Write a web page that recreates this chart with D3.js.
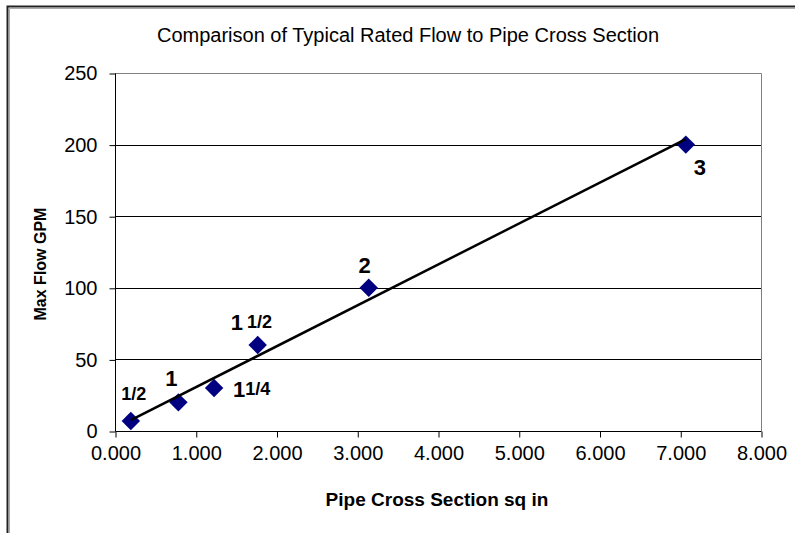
<!DOCTYPE html>
<html><head><meta charset="utf-8">
<script src="https://cdn.jsdelivr.net/npm/d3@7"></script>
<style>
body{margin:0;background:#fff}
svg{display:block}
text{font-family:Arial,"Liberation Sans",sans-serif}
</style>
</head><body>
<svg id="c" width="795" height="533"></svg>
<script>
// ---- data ----
const sizeBig   = ["", "1", "1", "1", "2", "3"];        // whole-inch part of pipe size label
const sizeFrac  = ["1/2", "", "1/4", "1/2", "", ""];    // fractional part of pipe size label
const crossSection = [0.196, 0.785, 1.227, 1.767, 3.142, 7.069]; // sq in
const maxFlow      = [7, 20, 30, 60, 100, 200];                  // GPM
const xTickValues = [0, 1, 2, 3, 4, 5, 6, 7, 8];
const yTickValues = [0, 50, 100, 150, 200, 250];
const titleText = "Comparison of Typical Rated Flow to Pipe Cross Section";
const xTitle = "Pipe Cross Section sq in";
const yTitle = "Max Flow GPM";

// ---- layout ----
const L = 115, R = 761, T = 73, B = 431;
// label placement relative to each point: [dx, dy, anchor, gap between whole and fraction]
const labelLayout = [
  [3, -21, "middle", 0],
  [-7, -16, "middle", 0],
  [19, 9, "start", 0],
  [-27, -15, "start", 4],
  [-4, -15, "middle", 0],
  [14, 30, "middle", 0]
];

const svg = d3.select("#c");
const x = d3.scaleLinear().domain([0, 8]).range([L, R]);
const y = d3.scaleLinear().domain([0, 250]).range([B, T]);

// outer frame
svg.append("path").attr("d", "M7.5,533 V6.5 H795").attr("fill", "none")
  .attr("stroke", "#222").attr("stroke-width", 2);
svg.append("path").attr("d", "M9.5,533 V8.5 H795").attr("fill", "none")
  .attr("stroke", "#aaa").attr("stroke-width", 1);

// title
svg.append("text").attr("x", 408).attr("y", 42).attr("text-anchor", "middle")
  .attr("font-size", 20).attr("fill", "#000").text(titleText);

// gridlines
svg.append("g").selectAll("line").data(yTickValues.filter(v => v > 0 && v < 250)).join("line")
  .attr("x1", L).attr("x2", R).attr("y1", d => Math.round(y(d)) + 0.5).attr("y2", d => Math.round(y(d)) + 0.5)
  .attr("stroke", "#000").attr("stroke-width", 1);

// plot area border (top, right)
svg.append("path").attr("d", `M${L},${T + 0.5} H${R + 0.5} V${B}`).attr("fill", "none")
  .attr("stroke", "#808080").attr("stroke-width", 1);

// axes
const yAxis = d3.axisLeft(y).tickValues(yTickValues).tickSize(6).tickPadding(12).tickFormat(d3.format("d"));
const gy = svg.append("g").attr("transform", `translate(${L + 0.5},0.5)`).call(yAxis);
const xAxis = d3.axisBottom(x).tickValues(xTickValues).tickSize(6).tickPadding(8).tickFormat(d3.format(".3f"));
const gx = svg.append("g").attr("transform", `translate(0.5,${B + 0.5})`).call(xAxis);
[gx, gy].forEach(g => {
  g.select(".domain").attr("stroke", "#000");
  g.selectAll(".tick line").attr("stroke", "#000");
  g.selectAll(".tick text").attr("font-size", 20).attr("fill", "#000")
    .attr("font-family", "Arial, 'Liberation Sans', sans-serif");
});
gy.selectAll(".tick line").attr("x2", 0).attr("x1", -6);
gy.select(".domain").attr("d", `M0,${T} V${B}`);
gx.select(".domain").attr("d", `M${L},0 H${R}`);

// axis titles
svg.append("text").attr("x", 437).attr("y", 506).attr("text-anchor", "middle")
  .attr("font-size", 19).attr("font-weight", "bold").attr("fill", "#000").text(xTitle);
svg.append("text").attr("transform", "translate(46,264) rotate(-90)").attr("text-anchor", "middle")
  .attr("font-size", 16).attr("font-weight", "bold").attr("fill", "#000").text(yTitle);

// linear trendline (least squares from the data)
const n = crossSection.length;
const mx = d3.mean(crossSection), my = d3.mean(maxFlow);
let sxy = 0, sxx = 0;
for (let i = 0; i < n; i++) { sxy += (crossSection[i] - mx) * (maxFlow[i] - my); sxx += (crossSection[i] - mx) ** 2; }
const slope = sxy / sxx, icpt = my - slope * mx;
const x0 = d3.min(crossSection), x1 = d3.max(crossSection);

const pts = crossSection.map((v, i) => ({ x: v, y: maxFlow[i], big: sizeBig[i], frac: sizeFrac[i], lay: labelLayout[i] }));

// markers
const sym = d3.symbol().type(d3.symbolSquare).size(170);
svg.append("g").selectAll("path").data(pts).join("path")
  .attr("d", sym)
  .attr("transform", d => `translate(${x(d.x)},${y(d.y)}) rotate(45)`)
  .attr("fill", "#000080");

svg.append("line")
  .attr("x1", x(x0)).attr("y1", y(slope * x0 + icpt))
  .attr("x2", x(x1)).attr("y2", y(slope * x1 + icpt))
  .attr("stroke", "#000").attr("stroke-width", 2.5);

// point labels
const lab = svg.append("g").selectAll("text").data(pts).join("text")
  .attr("x", d => x(d.x) + d.lay[0]).attr("y", d => y(d.y) + d.lay[1])
  .attr("text-anchor", d => d.lay[2]).attr("font-weight", "bold").attr("fill", "#000");
lab.each(function (d) {
  const t = d3.select(this);
  if (d.big) t.append("tspan").attr("font-size", 22).text(d.big);
  if (d.frac) t.append("tspan").attr("font-size", 18).attr("dx", d.big ? d.lay[3] : 0)
    .attr("dy", d.big ? -2 : 0).text(d.frac);
});
</script>
</body></html>
